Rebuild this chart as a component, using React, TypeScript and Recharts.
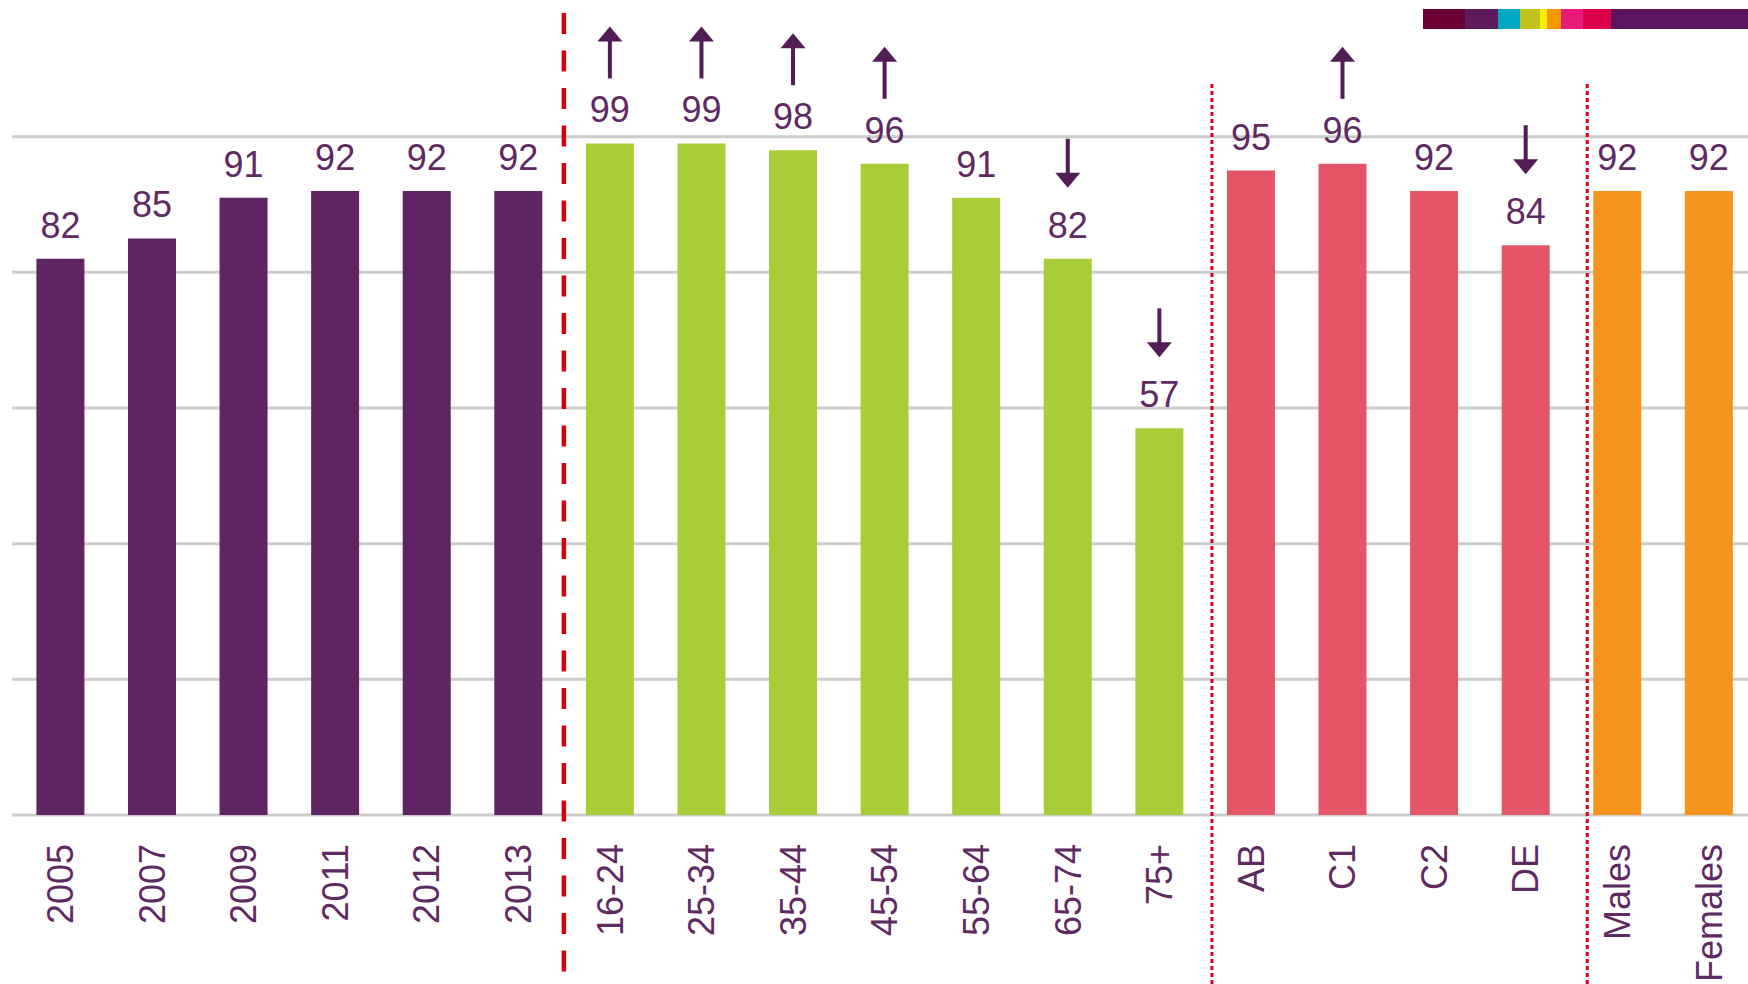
import { BarChart, Bar, XAxis, YAxis, CartesianGrid, Cell, LabelList, ReferenceLine } from 'recharts';

// Share of adults (%) by year, age, social grade and gender
const categories = [
  '2005', '2007', '2009', '2011', '2012', '2013',
  '16-24', '25-34', '35-44', '45-54', '55-64', '65-74', '75+',
  'AB', 'C1', 'C2', 'DE',
  'Males', 'Females',
];
const values = [82, 85, 91, 92, 92, 92, 99, 99, 98, 96, 91, 82, 57, 95, 96, 92, 84, 92, 92];
const groups = [
  'year', 'year', 'year', 'year', 'year', 'year',
  'age', 'age', 'age', 'age', 'age', 'age', 'age',
  'grade', 'grade', 'grade', 'grade',
  'gender', 'gender',
];
// significant change vs. all adults
const trends = ['', '', '', '', '', '', 'up', 'up', 'up', 'up', '', 'down', 'down', '', 'up', '', 'down', '', ''];
const gridTicks = [0, 20, 40, 60, 80, 100];

const groupColors: Record<string, string> = {
  year: '#5f2462',
  age: '#a9cd38',
  grade: '#e45667',
  gender: '#f4931e',
};

const stripe = [
  { color: '#6a0035', w: 42 },
  { color: '#5d1a5d', w: 33 },
  { color: '#00a7c1', w: 22 },
  { color: '#c0c21d', w: 20 },
  { color: '#fcee00', w: 7 },
  { color: '#f49800', w: 14 },
  { color: '#e61a79', w: 22 },
  { color: '#db0047', w: 28 },
  { color: '#5b155e', w: 140 },
];

const data = categories.map((name, i) => ({ name, value: values[i], group: groups[i], trend: trends[i] }));

const FONT = '"Liberation Sans", Arial, sans-serif';
const TEXT = '#5f2a62';
const ARROW = '#521c54';

function CategoryTick(props: any) {
  const { x, y, payload } = props;
  return (
    <text
      x={0}
      y={0}
      dy="0.36em"
      textAnchor="end"
      transform={`translate(${x},${y + 27}) rotate(-90)`}
      fill={TEXT}
      fontSize={36}
      fontFamily={FONT}
    >
      {payload.value}
    </text>
  );
}

function ValueLabel(props: any) {
  const vb = props.viewBox || {};
  const x = props.x ?? vb.x;
  const y = props.y ?? vb.y;
  const width = props.width ?? vb.width;
  const { value, index } = props;
  const cx = x + width / 2;
  const baseline = y - 21;
  const labelTop = baseline - 26;
  const trend = trends[index];

  let arrow = null;
  if (trend === 'up') {
    const yb = labelTop - 18;
    arrow = (
      <g fill={ARROW} stroke="none">
        <line x1={cx} x2={cx} y1={yb} y2={yb - 40} stroke={ARROW} strokeWidth={4} />
        <polygon points={`${cx - 12.5},${yb - 37} ${cx + 12.5},${yb - 37} ${cx},${yb - 52}`} />
      </g>
    );
  } else if (trend === 'down') {
    const yt = labelTop - 24;
    arrow = (
      <g fill={ARROW} stroke="none">
        <line x1={cx} x2={cx} y1={yt - 49} y2={yt - 12} stroke={ARROW} strokeWidth={4} />
        <polygon points={`${cx - 12.5},${yt - 15} ${cx + 12.5},${yt - 15} ${cx},${yt}`} />
      </g>
    );
  }

  return (
    <g>
      {arrow}
      <text x={cx} y={baseline} textAnchor="middle" fill={TEXT} fontSize={36} fontFamily={FONT}>
        {value}
      </text>
    </g>
  );
}

// vertical separators run from near the top down past the category labels
const divider = (dx: number, topGap: number, dash: string, width: number, color: string) => (p: any) => {
  const top = Math.min(p.y1, p.y2);
  const bottom = Math.max(p.y1, p.y2);
  return (
    <line
      x1={p.x1 + dx}
      x2={p.x1 + dx}
      y1={top + topGap}
      y2={bottom + 169}
      stroke={color}
      strokeWidth={width}
      strokeDasharray={dash}
    />
  );
};

export default function App() {
  return (
    <div
      style={{
        position: 'fixed',
        left: 0,
        top: 0,
        width: 1748,
        height: 984,
        overflow: 'hidden',
        background: '#ffffff',
      }}
    >
      <BarChart
        width={1760}
        height={984}
        data={data}
        margin={{ top: 1, right: 3, bottom: 0, left: 12 }}
        barSize={48}
      >
        <CartesianGrid vertical={false} horizontalValues={gridTicks} stroke="#cccccc" strokeWidth={3} />
        <YAxis hide type="number" domain={[0, 120]} ticks={gridTicks} />
        <XAxis
          dataKey="name"
          height={169}
          interval={0}
          tickLine={false}
          axisLine={false}
          tickSize={0}
          padding={{ left: 2.4, right: 2.6 }}
          tick={<CategoryTick />}
        />
        <Bar dataKey="value" isAnimationActive={false}>
          {data.map((d) => (
            <Cell key={d.name} fill={groupColors[d.group]} />
          ))}
          <LabelList dataKey="value" content={<ValueLabel />} />
        </Bar>
        <ReferenceLine x="16-24" position="start" ifOverflow="visible" shape={divider(0, 12, '21 16.5', 4.5, '#d6000d')} />
        <ReferenceLine x="AB" position="start" ifOverflow="visible" shape={divider(7, 83, '4 3', 3, '#e0001a')} />
        <ReferenceLine x="Males" position="start" ifOverflow="visible" shape={divider(16, 83, '4 3', 3, '#e0001a')} />
      </BarChart>
      <div style={{ position: 'absolute', left: 1423, top: 9, height: 20, display: 'flex' }}>
        {stripe.map((s, i) => (
          <div key={i} style={{ width: s.w, height: 20, background: s.color }} />
        ))}
      </div>
    </div>
  );
}
